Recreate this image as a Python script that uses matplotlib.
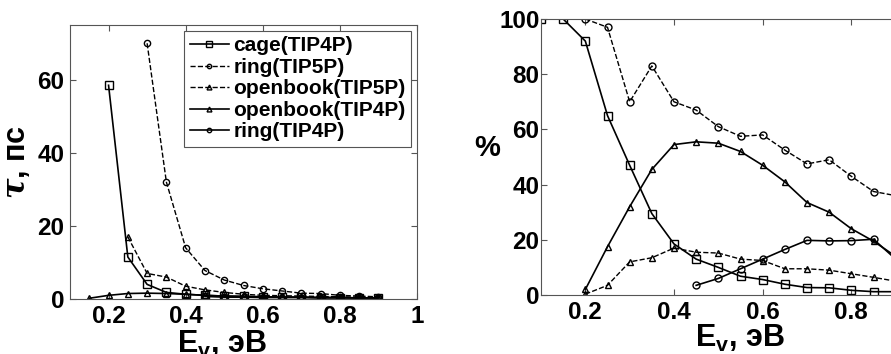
import matplotlib
matplotlib.use("Agg")
import matplotlib.pyplot as plt

plt.rcParams['font.family'] = ['Liberation Sans', 'DejaVu Sans']
plt.rcParams['font.weight'] = 'bold'
plt.rcParams['axes.labelweight'] = 'bold'
plt.rcParams['mathtext.fontset'] = 'custom'
plt.rcParams['mathtext.rm'] = 'Liberation Sans:bold'
plt.rcParams['mathtext.it'] = 'DejaVu Serif:italic:bold'
plt.rcParams['mathtext.bf'] = 'Liberation Sans:bold'

# left panel: lifetimes, ps
ev_cage4 = [0.2, 0.25, 0.3, 0.35, 0.4, 0.45, 0.5, 0.55, 0.6, 0.65, 0.7, 0.75, 0.8, 0.85, 0.9]
tau_cage4 = [58.5, 11.5, 4.0, 1.8, 1.3, 1.0, 0.8, 0.7, 0.6, 0.5, 0.5, 0.4, 0.4, 0.3, 0.3]
ev_ring5 = [0.3, 0.35, 0.4, 0.45, 0.5, 0.55, 0.6, 0.65, 0.7, 0.75, 0.8, 0.85, 0.9]
tau_ring5 = [70.0, 32.0, 14.0, 7.8, 5.2, 3.7, 2.8, 2.2, 1.6, 1.5, 1.0, 0.8, 0.6]
ev_ob5 = [0.25, 0.3, 0.35, 0.4, 0.45, 0.5, 0.55, 0.6, 0.65, 0.7, 0.75, 0.8, 0.85, 0.9]
tau_ob5 = [17.0, 7.0, 6.0, 3.5, 2.5, 1.8, 1.3, 1.0, 0.9, 0.8, 0.7, 0.6, 0.5, 0.5]
ev_ob4 = [0.15, 0.2, 0.25, 0.3, 0.35, 0.4, 0.45, 0.5, 0.55, 0.6, 0.65, 0.7, 0.75, 0.8, 0.85, 0.9]
tau_ob4 = [0.2, 1.0, 1.5, 1.6, 1.5, 1.3, 1.0, 0.8, 0.7, 0.6, 0.5, 0.5, 0.4, 0.4, 0.3, 0.3]
ev_ring4 = [0.45, 0.5, 0.55, 0.6, 0.65, 0.7, 0.75, 0.8, 0.85, 0.9]
tau_ring4 = [0.7, 0.5, 0.5, 0.4, 0.4, 0.4, 0.3, 0.3, 0.3, 0.3]

# right panel: fractions, %
ev_p_cage4 = [0.1, 0.15, 0.2, 0.25, 0.3, 0.35, 0.4, 0.45, 0.5, 0.55, 0.6, 0.65, 0.7, 0.75, 0.8, 0.85, 0.9]
p_cage4 = [100, 100, 92, 65, 47, 29.5, 18.5, 13, 10, 6.8, 5.6, 3.9, 2.7, 2.6, 1.7, 1.2, 1.2]
ev_p_ring5 = [0.2, 0.25, 0.3, 0.35, 0.4, 0.45, 0.5, 0.55, 0.6, 0.65, 0.7, 0.75, 0.8, 0.85, 0.9]
p_ring5 = [100, 97, 70, 83, 70, 67, 61, 57.5, 58, 52.5, 47.5, 49, 43, 37.5, 36]
ev_p_ob4 = [0.2, 0.25, 0.3, 0.35, 0.4, 0.45, 0.5, 0.55, 0.6, 0.65, 0.7, 0.75, 0.8, 0.85, 0.9]
p_ob4 = [2, 17.5, 32, 45.5, 54.5, 55.5, 55, 52, 47, 41, 33.5, 30, 24, 19.5, 14]
ev_p_ob5 = [0.2, 0.25, 0.3, 0.35, 0.4, 0.45, 0.5, 0.55, 0.6, 0.65, 0.7, 0.75, 0.8, 0.85, 0.9]
p_ob5 = [0.3, 3.5, 12, 13.5, 17, 15.5, 15.2, 13, 12.5, 9.5, 9.5, 9, 7.7, 6.4, 5]
ev_p_ring4 = [0.45, 0.5, 0.55, 0.6, 0.65, 0.7, 0.75, 0.8, 0.85, 0.9]
p_ring4 = [3.5, 6, 9.5, 13, 16.5, 19.8, 19.6, 19.7, 20.2, 13]

W, H = 891, 354
fig = plt.figure(figsize=(W / 100, H / 100), dpi=100)

def box(l, t, r, b):
    return [l / W, 1 - b / H, (r - l) / W, (b - t) / H]

def style(ax):
    ax.tick_params(direction='in', top=True, right=True, labelsize=17.5, pad=4, length=4,
                   color='#555555')
    for s in ax.spines.values():
        s.set_linewidth(0.8)
        s.set_color('#555555')

ax1 = fig.add_axes(box(70, 25, 417, 299))
ax1.plot(ev_cage4, tau_cage4, 'k-', marker='s', ms=6, mfc='none', lw=1.2, label='cage(TIP4P)')
ax1.plot(ev_ring5, tau_ring5, 'k--', marker='o', ms=4.5, mfc='none', lw=1.0, label='ring(TIP5P)')
ax1.plot(ev_ob5, tau_ob5, 'k--', marker='^', ms=5, mfc='none', lw=1.0, label='openbook(TIP5P)')
ax1.plot(ev_ob4, tau_ob4, 'k-', marker='^', ms=5, mfc='none', lw=1.2, label='openbook(TIP4P)')
ax1.plot(ev_ring4, tau_ring4, 'k-', marker='o', ms=4.5, mfc='none', lw=1.2, label='ring(TIP4P)')
ax1.set_xlim(0.1, 1.0)
ax1.set_ylim(0, 75)
ax1.set_xticks([0.2, 0.4, 0.6, 0.8, 1.0])
ax1.set_xticklabels(['0.2', '0.4', '0.6', '0.8', '1'])
ax1.set_yticks([0, 20, 40, 60])
style(ax1)
ax1.set_xlabel(r'E$_{\mathregular{v}}$, эВ', fontsize=22)
ax1.xaxis.set_label_coords((222 - 70) / (417 - 70), -0.11)
ax1.set_ylabel(r'$\tau$, пс', fontsize=22, labelpad=4)
leg = ax1.legend(loc='upper right', fontsize=15, handlelength=1.9, handletextpad=0.2,
                 labelspacing=0.12, borderaxespad=0.3, borderpad=0.25, fancybox=False,
                 markerscale=0.7)
leg.get_frame().set_edgecolor('#555555')
leg.get_frame().set_linewidth(0.8)
leg.get_frame().set_alpha(1)

ax2 = fig.add_axes(box(541, 19, 940, 295))
ax2.plot(ev_p_cage4, p_cage4, 'k-', marker='s', ms=6, mfc='none', lw=1.2)
ax2.plot(ev_p_ring5, p_ring5, 'k--', marker='o', ms=5, mfc='none', lw=1.0)
ax2.plot(ev_p_ob4, p_ob4, 'k-', marker='^', ms=5, mfc='none', lw=1.2)
ax2.plot(ev_p_ob5, p_ob5, 'k--', marker='^', ms=5, mfc='none', lw=1.0)
ax2.plot(ev_p_ring4, p_ring4, 'k-', marker='o', ms=5, mfc='none', lw=1.2)
ax2.set_xlim(0.1, 1.0)
ax2.set_ylim(0, 100)
ax2.set_xticks([0.2, 0.4, 0.6, 0.8])
ax2.set_yticks([0, 20, 40, 60, 80, 100])
style(ax2)
ax2.tick_params(axis='y', pad=1)
ax2.set_xlabel(r'E$_{\mathregular{v}}$, эВ', fontsize=22)
ax2.xaxis.set_label_coords((740 - 541) / (940 - 541), -0.1)
ax2.set_ylabel('%', fontsize=21, rotation=0, va='center')
ax2.yaxis.set_label_coords((487 - 541) / (940 - 541), (295 - 148) / (295 - 19))

fig.savefig('out.png', dpi=100)
